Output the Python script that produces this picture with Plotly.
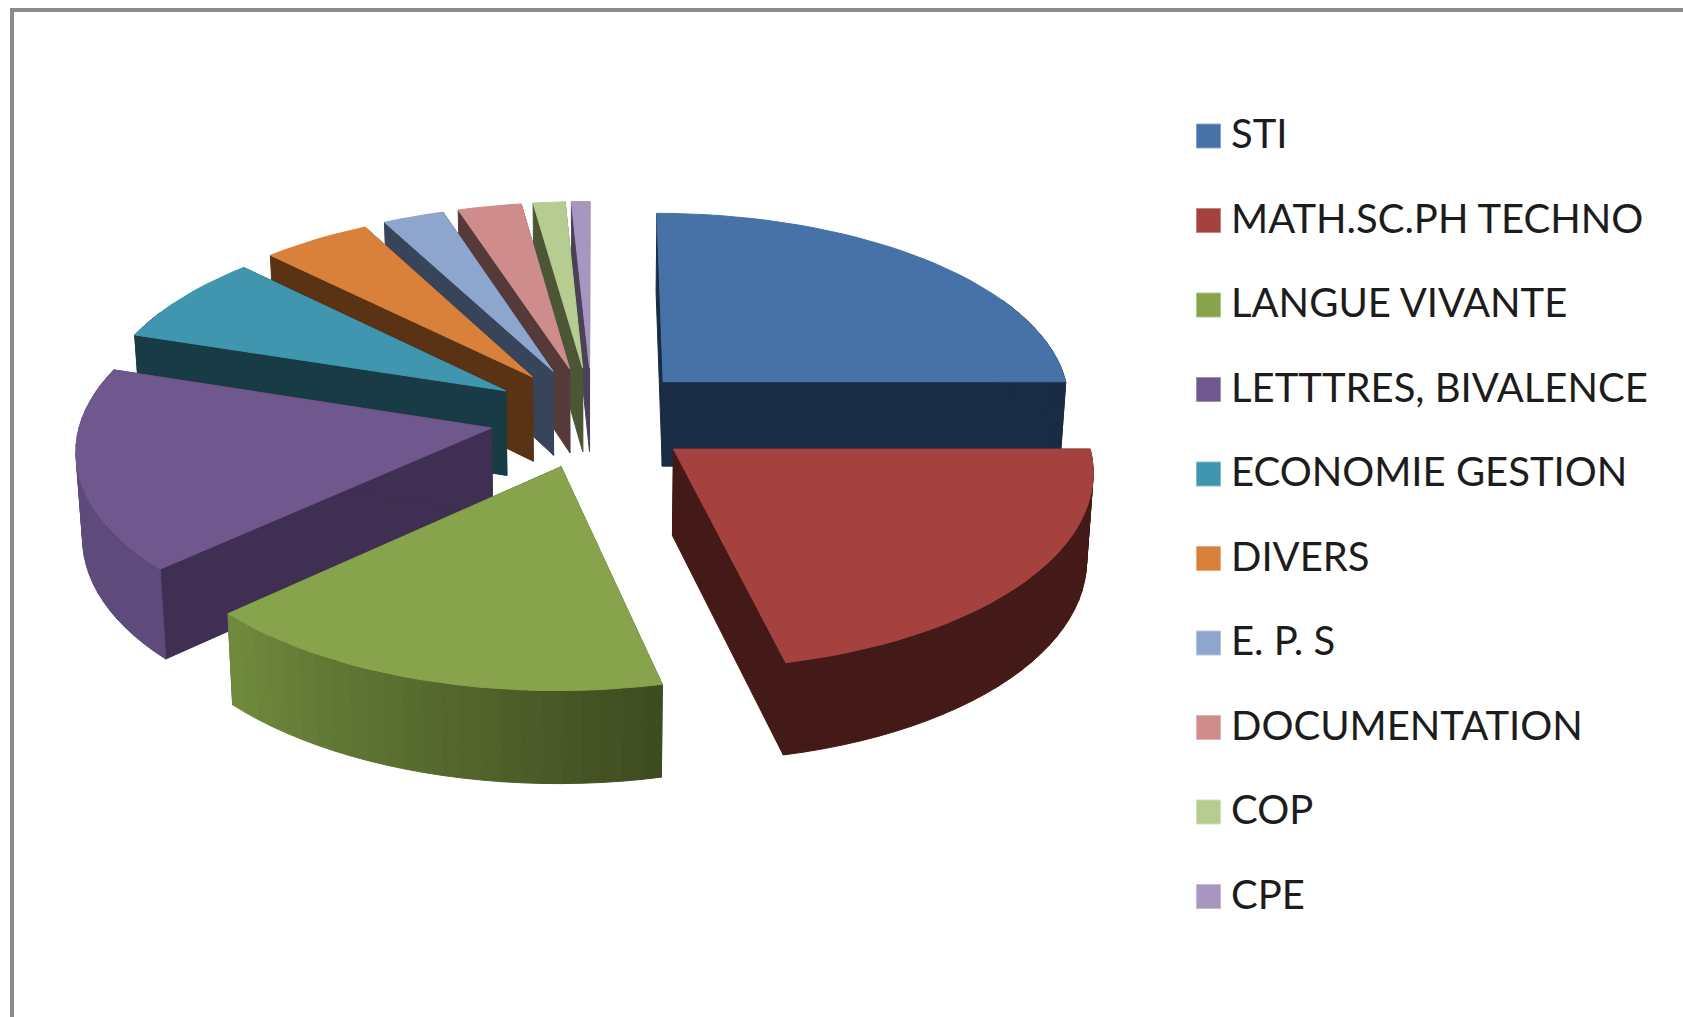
import math
import plotly.graph_objects as go

categories = ["STI", "MATH.SC.PH TECHNO", "LANGUE VIVANTE", "LETTTRES, BIVALENCE",
              "ECONOMIE GESTION", "DIVERS", "E. P. S", "DOCUMENTATION", "COP", "CPE"]
values = [25.0, 21.4, 16.7, 16.9, 7.5, 4.8, 2.7, 2.8, 1.4, 0.8]
top_colors = ["#4672A8", "#A54240", "#87A34B", "#70578D", "#3F96AE",
              "#D9803A", "#8EA5CE", "#CE8D8C", "#B7CC90", "#A797C0"]
side_colors = ["#1A2C44", "#441A18", "#3E4A20", "#3F2F52", "#183B46",
               "#5A3214", "#38445A", "#553A3A", "#4C5636", "#4A4256"]
# rim-wall shade at the start and the end of each slice's arc
rim_start = ["#1A2C44", "#441A18", "#3E4A20", "#5F4A7C", "#183B46",
             "#5A3214", "#38445A", "#553A3A", "#4C5636", "#4A4256"]
rim_end = ["#1A2C44", "#441A18", "#708B3D", "#5F4A7C", "#183B46",
           "#5A3214", "#38445A", "#553A3A", "#4C5636", "#4A4256"]
paint_order = [0, 9, 8, 7, 6, 5, 4, 3, 1, 2]

# view of the tilted pie
CX, CY = 592, 417
RX, RY = 410, 191.5
PERSP = 0.098
EXPLODE_X = 0.25
EXPLODE_Y = 0.265
DEPTH = 85.5
DEPTH_GROW = 0.07
BASE_SHRINK = 0.987
START = -90.0

LEGEND_X = 1208.5
LEGEND_TEXT_X = 1231
LEGEND_Y = 136
LEGEND_STEP = 84.5
LEGEND_TEXT_DY = 2


def project(u, v):
    w = 1 - PERSP * v
    return RX * u / w, RY * v / w


def top_pt(u, v):
    x, y = project(u, v)
    return CX + x, CY + y


def bottom_pt(u, v):
    x, y = project(u, v)
    return CX + x * BASE_SHRINK, CY + y + DEPTH * (1 + DEPTH_GROW * v)


def mix(a, b, t):
    ca = [int(a[i:i + 2], 16) for i in (1, 3, 5)]
    cb = [int(b[i:i + 2], 16) for i in (1, 3, 5)]
    return "#" + "".join(f"{round(p + (q - p) * t):02x}" for p, q in zip(ca, cb))


fig = go.Figure()


def poly(points, color, name):
    xs = [p[0] for p in points] + [points[0][0]]
    ys = [p[1] for p in points] + [points[0][1]]
    fig.add_trace(go.Scatter(x=xs, y=ys, mode="lines", fill="toself", fillcolor=color,
                             line=dict(color=color, width=1), name=name,
                             hoverinfo="name", showlegend=False))


total = sum(values)
spans = []
a = START
for val in values:
    b = a + 360 * val / total
    spans.append((a, b))
    a = b

for i in paint_order:
    a0, a1 = spans[i]
    mid = math.radians((a0 + a1) / 2)
    ou, ov = EXPLODE_X * math.cos(mid), EXPLODE_Y * math.sin(mid)
    n = max(4, int((a1 - a0) / 2.5))
    arc = []
    for k in range(n + 1):
        t = math.radians(a0 + (a1 - a0) * k / n)
        arc.append((ou + math.cos(t), ov + math.sin(t)))

    name = categories[i]
    # straight walls
    for edge in (arc[0], arc[-1]):
        poly([top_pt(ou, ov), top_pt(*edge), bottom_pt(*edge), bottom_pt(ou, ov)],
             side_colors[i], name)
    # rim wall, only where it faces the viewer
    for k in range(n):
        t = math.radians(a0 + (a1 - a0) * (k + 0.5) / n)
        if math.sin(t) > -0.45:
            col = mix(rim_start[i], rim_end[i], (k + 0.5) / n)
            poly([top_pt(*arc[k]), top_pt(*arc[k + 1]), bottom_pt(*arc[k + 1]), bottom_pt(*arc[k])],
                 col, name)
    # top face
    poly([top_pt(ou, ov)] + [top_pt(*p) for p in arc], top_colors[i], name)

for i, cat in enumerate(categories):
    row_y = LEGEND_Y + LEGEND_STEP * i
    fig.add_trace(go.Scatter(
        x=[LEGEND_X], y=[row_y], mode="markers",
        marker=dict(symbol="square", size=24, color=top_colors[i],
                    line=dict(color=mix(top_colors[i], "#ffffff", 0.35), width=1)),
        name=cat, hoverinfo="name", showlegend=False))
    fig.add_trace(go.Scatter(
        x=[LEGEND_TEXT_X], y=[row_y + LEGEND_TEXT_DY], mode="text",
        text=[cat], textposition="middle right",
        textfont=dict(family="Lato, Noto Sans, sans-serif", size=40, color="#1c1c1c"),
        name=cat, hoverinfo="name", showlegend=False))

fig.update_layout(
    width=1683, height=1017, margin=dict(l=0, r=0, t=0, b=0),
    paper_bgcolor="white", plot_bgcolor="white", showlegend=False,
    xaxis=dict(range=[0, 1683], visible=False, fixedrange=True),
    yaxis=dict(range=[1017, 0], visible=False, fixedrange=True),
    shapes=[dict(type="rect", x0=12, y0=10, x1=1720, y1=1060, xref="x", yref="y",
                 line=dict(color="#8C8C8C", width=4), layer="below")],
)
fig.write_html("out.html", config=dict(displayModeBar=False),
               post_script="document.body.style.margin='0';document.body.style.overflow='hidden';")
